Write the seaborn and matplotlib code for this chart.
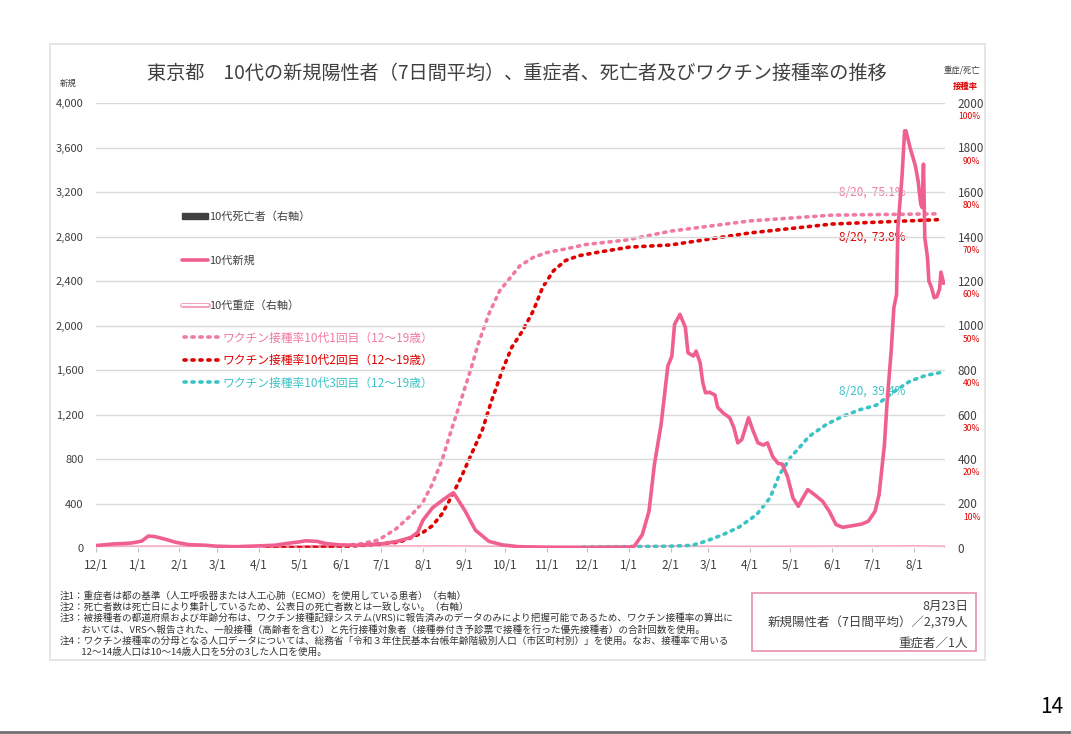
import matplotlib
matplotlib.use("Agg")
import matplotlib.pyplot as plt
import matplotlib.dates as mdates
import matplotlib.patheffects as pe
from matplotlib.lines import Line2D
from matplotlib.patches import Patch, Rectangle
from matplotlib.ticker import FuncFormatter
import seaborn as sns
import pandas as pd

# 10代新規陽性者（7日間平均）
new_dates = ["2020-12-01", "2020-12-08", "2020-12-15", "2020-12-22", "2020-12-28",
             "2021-01-04", "2021-01-09", "2021-01-14", "2021-01-22", "2021-01-29",
             "2021-02-08", "2021-02-20", "2021-03-01", "2021-03-15", "2021-03-30",
             "2021-04-13", "2021-04-23", "2021-05-01", "2021-05-06", "2021-05-14",
             "2021-05-21", "2021-05-31", "2021-06-13", "2021-06-23", "2021-07-03",
             "2021-07-13", "2021-07-23", "2021-07-28", "2021-08-01", "2021-08-08",
             "2021-08-15", "2021-08-22", "2021-08-24", "2021-09-01", "2021-09-09",
             "2021-09-19", "2021-09-29", "2021-10-11", "2021-11-01", "2021-12-01",
             "2022-01-01", "2022-01-05", "2022-01-11", "2022-01-16", "2022-01-20",
             "2022-01-25", "2022-01-30", "2022-02-02", "2022-02-04", "2022-02-08",
             "2022-02-12", "2022-02-14", "2022-02-18", "2022-02-20", "2022-02-23",
             "2022-02-25", "2022-02-27", "2022-03-02", "2022-03-06", "2022-03-08",
             "2022-03-12", "2022-03-17", "2022-03-20", "2022-03-23", "2022-03-26",
             "2022-03-31", "2022-04-03", "2022-04-07", "2022-04-11", "2022-04-14",
             "2022-04-18", "2022-04-22", "2022-04-25", "2022-04-29", "2022-05-03",
             "2022-05-07", "2022-05-09", "2022-05-14", "2022-05-19", "2022-05-25",
             "2022-05-30", "2022-06-04", "2022-06-09", "2022-06-16", "2022-06-23",
             "2022-06-28", "2022-07-03", "2022-07-06", "2022-07-10", "2022-07-12",
             "2022-07-15", "2022-07-17", "2022-07-19", "2022-07-20", "2022-07-23",
             "2022-07-25", "2022-07-26", "2022-07-29", "2022-08-02", "2022-08-04",
             "2022-08-06", "2022-08-07", "2022-08-08", "2022-08-09", "2022-08-11",
             "2022-08-12", "2022-08-14", "2022-08-16", "2022-08-18", "2022-08-20",
             "2022-08-21", "2022-08-23"]
new_cases = [22, 30, 37, 40, 46,
             62, 108, 102, 77, 52,
             30, 25, 16, 12, 18,
             25, 43, 55, 65, 60,
             40, 28, 25, 31, 40,
             60, 95, 140, 250, 360,
             425, 485, 492, 340, 160,
             60, 28, 12, 6, 4,
             8, 15, 120, 330, 750,
             1110, 1635, 1725, 2010, 2100,
             1985, 1755, 1725, 1770, 1665,
             1485, 1395, 1400, 1375, 1265,
             1215, 1170, 1085, 945, 975,
             1170, 1065, 945, 925, 945,
             820, 760, 755, 640, 450,
             375, 420, 525, 480, 420,
             330, 210, 186, 200, 215,
             240, 330, 480, 930, 1320,
             1770, 2160, 2280, 2880, 3330,
             3750, 3750, 3600, 3435, 3300,
             3090, 3060, 3450, 2790, 2610,
             2400, 2340, 2250, 2260, 2330,
             2480, 2379]

# 10代重症（右軸）
severe_dates = ["2020-12-01", "2021-01-15", "2021-03-01", "2021-08-20", "2021-10-01",
                "2022-02-05", "2022-04-01", "2022-08-01", "2022-08-23"]
severe = [0, 1, 0, 2, 0, 1, 0, 2, 1]

# 10代死亡者（右軸）
death_dates = ["2022-08-10"]
deaths = [1]

# ワクチン接種率 1回目 (%)
dose1_dates = ["2021-04-05", "2021-05-01", "2021-06-01", "2021-06-15", "2021-06-29",
               "2021-07-12", "2021-07-24", "2021-08-01", "2021-08-08", "2021-08-15",
               "2021-08-22", "2021-08-30", "2021-09-06", "2021-09-11", "2021-09-19",
               "2021-09-27", "2021-10-04", "2021-10-12", "2021-10-22", "2021-11-01",
               "2021-11-15", "2021-11-30", "2021-12-15", "2021-12-30", "2022-02-01",
               "2022-04-01", "2022-06-01", "2022-08-20"]
dose1_rate = [0.1, 0.2, 0.5, 0.9, 1.8,
              4.3, 7.6, 10.3, 14.4, 19.6,
              26.4, 33.9, 40.6, 45.8, 52.6,
              57.8, 60.4, 63.4, 65.3, 66.4,
              67.2, 68.2, 68.7, 69.2, 71.2,
              73.5, 74.8, 75.1]

# ワクチン接種率 2回目 (%)
dose2_dates = ["2021-04-07", "2021-05-01", "2021-06-01", "2021-06-29", "2021-07-14",
               "2021-07-24", "2021-08-01", "2021-08-08", "2021-08-15", "2021-08-22",
               "2021-08-30", "2021-09-06", "2021-09-14", "2021-09-21", "2021-09-29",
               "2021-10-06", "2021-10-14", "2021-10-22", "2021-10-29", "2021-11-06",
               "2021-11-15", "2021-11-25", "2021-12-08", "2021-12-20", "2022-01-01",
               "2022-02-01", "2022-04-01", "2022-06-01", "2022-08-20"]
dose2_rate = [0.0, 0.1, 0.2, 0.9, 1.3,
              2.4, 3.5, 5.0, 7.6, 11.4,
              16.3, 21.1, 26.4, 33.1, 39.9,
              45.1, 48.8, 53.3, 58.6, 62.3,
              64.6, 65.7, 66.4, 67.0, 67.6,
              68.1, 70.8, 72.8, 73.8]

# ワクチン接種率 3回目 (%)
dose3_dates = ["2021-11-28", "2022-01-01", "2022-02-01", "2022-02-17", "2022-02-27",
               "2022-03-12", "2022-03-24", "2022-04-06", "2022-04-16", "2022-04-23",
               "2022-05-01", "2022-05-07", "2022-05-15", "2022-05-28", "2022-06-09",
               "2022-06-22", "2022-07-04", "2022-07-16", "2022-07-29", "2022-08-10",
               "2022-08-20"]
dose3_rate = [0.2, 0.3, 0.4, 0.6, 1.5,
              3.0, 4.7, 7.5, 11.3, 16.5,
              20.3, 22.3, 25.1, 27.8, 29.6,
              31.1, 32.1, 34.9, 37.5, 38.8,
              39.4]

left_ticks = list(range(0, 4001, 400))
right_ticks = list(range(0, 2001, 200))
pct_labels = ["", "10%", "20%", "30%", "40%", "50%", "60%", "70%", "80%", "90%", "100%"]

title = "東京都　10代の新規陽性者（7日間平均）、重症者、死亡者及びワクチン接種率の推移"
notes = [
    "注1：重症者は都の基準（人工呼吸器または人工心肺（ECMO）を使用している患者）（右軸）",
    "注2：死亡者数は死亡日により集計しているため、公表日の死亡者数とは一致しない。（右軸）",
    "注3：被接種者の都道府県および年齢分布は、ワクチン接種記録システム(VRS)に報告済みのデータのみにより把握可能であるため、ワクチン接種率の算出に",
    "　　 おいては、VRSへ報告された、一般接種（高齢者を含む）と先行接種対象者（接種券付き予診票で接種を行った優先接種者）の合計回数を使用。",
    "注4：ワクチン接種率の分母となる人口データについては、総務省「令和３年住民基本台帳年齢階級別人口（市区町村別）」を使用。なお、接種率で用いる",
    "　　 12～14歳人口は10～14歳人口を5分の3した人口を使用。",
]
box_lines = ["8月23日", "新規陽性者（7日間平均）／2,379人", "重症者／1人"]

C_NEW = "#F0608E"
C_D1 = "#F07AA2"
C_D2 = "#E00000"
C_D3 = "#3CC3C6"
C_SEV = "#F4A3BE"
C_DEATH = "#404040"
C_TXT = "#404040"
C_GRID = "#D9D9D9"

sns.set_theme(style="white")
plt.rcParams["font.family"] = ["Noto Sans CJK JP", "DejaVu Sans"]

W, H = 1071, 734
fig = plt.figure(figsize=(W / 100, H / 100), dpi=100)


def fx(px):
    return px / W


def fy(py):
    return 1 - py / H


# panel frame and page
fig.patches.append(Rectangle((fx(50), fy(660)), fx(985) - fx(50), fy(44) - fy(660),
                             transform=fig.transFigure, fill=False, edgecolor="#E0E0E0", lw=1.2))
fig.add_artist(Line2D([0, 1], [fy(732), fy(732)], transform=fig.transFigure, color="#707070", lw=2))
fig.text(fx(1052), fy(707), "14", ha="center", va="center", fontsize=15, color="black")

ax = fig.add_axes([fx(96), fy(548), fx(945) - fx(96), fy(103) - fy(548)])
ax2 = ax.twinx()
ax3 = ax.twinx()

new_df = pd.DataFrame({"date": pd.to_datetime(new_dates), "value": new_cases})
sev_df = pd.DataFrame({"date": pd.to_datetime(severe_dates), "value": severe})
d1_df = pd.DataFrame({"date": pd.to_datetime(dose1_dates), "value": dose1_rate})
d2_df = pd.DataFrame({"date": pd.to_datetime(dose2_dates), "value": dose2_rate})
d3_df = pd.DataFrame({"date": pd.to_datetime(dose3_dates), "value": dose3_rate})

# severe (hollow pink line) and deaths on right axis
sns.lineplot(data=sev_df, x="date", y="value", ax=ax2, color="white", linewidth=1.4,
             path_effects=[pe.Stroke(linewidth=3.6, foreground=C_SEV), pe.Normal()])
ax2.bar(pd.to_datetime(death_dates), deaths, width=1.0, color=C_DEATH)

# vaccination rates (%)
dots = (0, (0.6, 1.6))
sns.lineplot(data=d1_df, x="date", y="value", ax=ax3, color=C_D1, linewidth=2.6,
             linestyle=dots, dash_capstyle="round")
sns.lineplot(data=d2_df, x="date", y="value", ax=ax3, color=C_D2, linewidth=2.6,
             linestyle=dots, dash_capstyle="round")
sns.lineplot(data=d3_df, x="date", y="value", ax=ax3, color=C_D3, linewidth=2.6,
             linestyle=dots, dash_capstyle="round")

# new cases on top
sns.lineplot(data=new_df, x="date", y="value", ax=ax, color=C_NEW, linewidth=2.6)
ax.set_zorder(1)
ax.patch.set_visible(False)

xmin, xmax = pd.Timestamp("2020-12-01"), pd.Timestamp("2022-08-24")
for a in (ax, ax2, ax3):
    a.set_xlim(xmin, xmax)
    a.set_xlabel("")
    a.set_ylabel("")
    for s in a.spines.values():
        s.set_visible(False)

ax.set_ylim(0, 4000)
ax.set_yticks(left_ticks)
ax.set_yticklabels([f"{v:,}" for v in left_ticks])
ax.grid(axis="y", color=C_GRID, lw=1)
ax.grid(axis="x", visible=False)
ax.tick_params(axis="y", length=0, pad=9, labelsize=8, labelcolor=C_TXT)
ax.xaxis.set_major_locator(mdates.MonthLocator())
ax.xaxis.set_major_formatter(FuncFormatter(lambda v, p: f"{mdates.num2date(v).month}/{mdates.num2date(v).day}"))
ax.tick_params(axis="x", bottom=True, length=3, width=0.8, color="#BFBFBF", pad=5,
               labelsize=8.5, labelcolor=C_TXT)

ax2.set_ylim(0, 2000)
ax2.set_yticks(right_ticks)
ax2.set_yticklabels([str(v) for v in right_ticks])
ax2.tick_params(axis="y", length=0, pad=9, labelsize=8.5, labelcolor=C_TXT)
ax2.grid(False)
for v, lab in zip(right_ticks, pct_labels):
    ax2.annotate(lab, xy=(1, v), xycoords=("axes fraction", "data"), xytext=(25.5, -10),
                 textcoords="offset points", ha="right", va="center", fontsize=6.2, color=C_D2)

ax3.set_ylim(0, 100)
ax3.set_yticks([])
ax3.grid(False)

# rate labels (drawn under the new-case line like the original)
for yv, lab, col in ((80.0, "8/20,  75.1%", C_D1), (69.9, "8/20,  73.8%", C_D2), (35.3, "8/20,  39.4%", C_D3)):
    ax3.text(pd.Timestamp("2022-07-26"), yv, lab, ha="right", va="center", fontsize=8.5, color=col)

# legends
h1 = [Patch(facecolor=C_DEATH, edgecolor=C_DEATH),
      Line2D([], [], color=C_NEW, lw=2.6),
      Line2D([], [], color="white", lw=1.4,
             path_effects=[pe.Stroke(linewidth=3.6, foreground=C_SEV), pe.Normal()])]
fig.legend(h1, ["10代死亡者（右軸）", "10代新規", "10代重症（右軸）"],
           loc="upper left", bbox_to_anchor=(fx(172), fy(201)), frameon=False,
           fontsize=8, labelspacing=3.05, handlelength=2.3, handleheight=0.5,
           handletextpad=0.15, labelcolor=C_TXT)
h2 = [Line2D([], [], color=c, lw=2.6, linestyle=dots, dash_capstyle="round")
      for c in (C_D1, C_D2, C_D3)]
fig.legend(h2, ["ワクチン接種率10代1回目（12～19歳）", "ワクチン接種率10代2回目（12～19歳）",
                "ワクチン接種率10代3回目（12～19歳）"],
           loc="upper left", bbox_to_anchor=(fx(173), fy(321)), frameon=False,
           fontsize=8.5, labelspacing=0.8, handlelength=2.9,
           handletextpad=0.4, labelcolor=[C_D1, C_D2, C_D3])

# texts
fig.text(fx(517), fy(73), title, ha="center", va="center", fontsize=13.8, color=C_TXT)
fig.text(fx(68), fy(83), "新規", ha="center", va="center", fontsize=6, color=C_TXT)
fig.text(fx(962), fy(70), "重症/死亡", ha="center", va="center", fontsize=6, color=C_TXT)
fig.text(fx(965), fy(86), "接種率", ha="center", va="center", fontsize=6, color=C_D2, fontweight="bold")

for i, line in enumerate(notes):
    fig.text(fx(60), fy(596 + i * 11.2), line, ha="left", va="center", fontsize=6.9, color="#333333")

fig.patches.append(Rectangle((fx(752), fy(651)), fx(976) - fx(752), fy(593) - fy(651),
                             transform=fig.transFigure, fill=False, edgecolor="#E58FB0", lw=1.2))
for yy, line in zip((606, 623, 643), box_lines):
    fig.text(fx(968), fy(yy), line, ha="right", va="center", fontsize=9, color=C_TXT)

fig.savefig("out.png", dpi=100)
